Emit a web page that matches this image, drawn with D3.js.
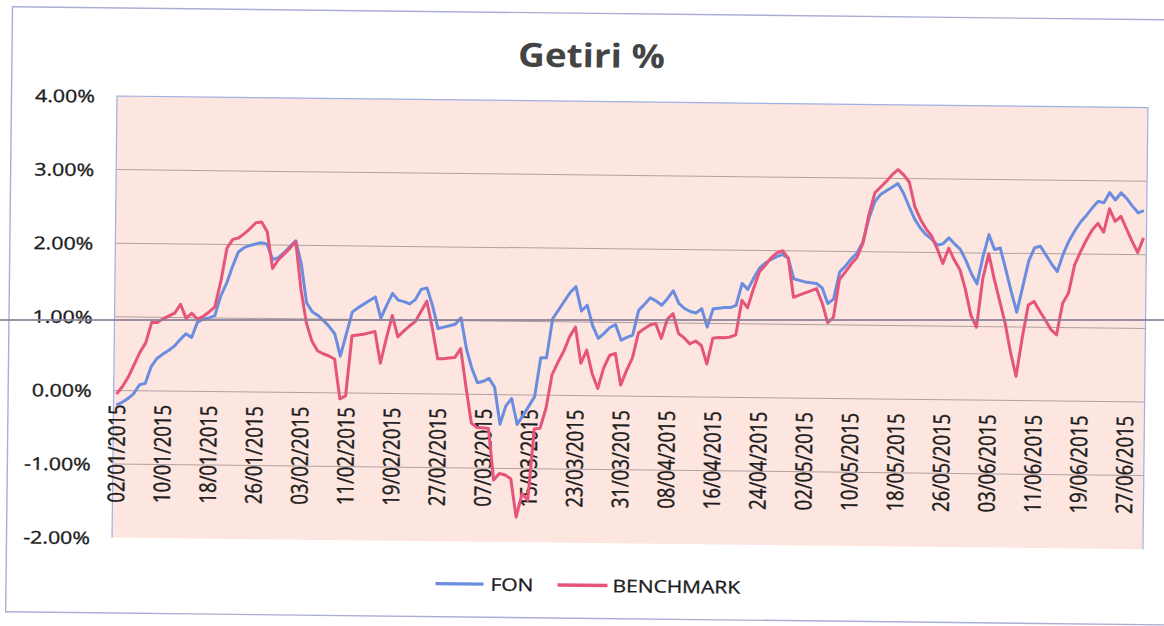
<!DOCTYPE html>
<html><head><meta charset="utf-8">
<script src="https://cdn.jsdelivr.net/npm/d3@7"></script>
<style>
html,body{margin:0;padding:0;background:#fff;}
svg{display:block;}
text{font-family:"Open Sans",sans-serif;}
</style></head><body>
<svg id="chart" width="1164" height="626"></svg>
<script>
// ---------------- data ----------------
const firstDay = "02/01/2015";   // one value per calendar day from here
const lastDayExclusive = "01/07/2015";
const seriesNames = ["FON", "BENCHMARK"];
const fon = [
 -0.20,-0.16,-0.11,-0.04,0.08,0.10,0.33,0.44,0.50,0.55,
 0.61,0.70,0.78,0.73,0.94,0.98,1.00,1.03,1.30,1.47,
 1.70,1.90,1.96,1.99,2.01,2.03,2.01,1.80,1.83,1.90,
 1.98,2.06,1.75,1.22,1.10,1.05,0.98,0.90,0.80,0.50,
 0.80,1.10,1.16,1.21,1.26,1.31,1.02,1.20,1.36,1.27,
 1.25,1.22,1.28,1.42,1.44,1.20,0.89,0.91,0.93,0.95,
 1.04,0.62,0.35,0.16,0.18,0.22,0.10,-0.40,-0.15,-0.05,
 -0.40,-0.28,-0.15,-0.02,0.51,0.51,1.04,1.16,1.28,1.40,
 1.48,1.15,1.23,0.95,0.78,0.85,0.93,0.97,0.76,0.80,
 0.83,1.17,1.25,1.34,1.30,1.24,1.33,1.44,1.27,1.20,
 1.16,1.14,1.20,0.95,1.20,1.21,1.22,1.22,1.25,1.55,
 1.47,1.62,1.76,1.83,1.88,1.92,1.95,1.90,1.62,1.60,
 1.58,1.57,1.56,1.50,1.29,1.35,1.72,1.80,1.90,1.98,
 2.13,2.45,2.68,2.78,2.83,2.88,2.93,2.80,2.62,2.45,
 2.33,2.24,2.18,2.10,2.12,2.20,2.12,2.05,1.90,1.72,
 1.58,1.95,2.25,2.05,2.07,1.78,1.48,1.20,1.55,1.90,
 2.08,2.10,1.98,1.86,1.76,2.00,2.18,2.32,2.44,2.53,
 2.63,2.72,2.70,2.84,2.74,2.84,2.76,2.66,2.57,2.60
];
const benchmark = [
 -0.05,0.05,0.18,0.35,0.52,0.65,0.93,0.93,0.98,1.02,
 1.06,1.18,0.99,1.06,0.98,1.02,1.08,1.15,1.50,1.95,
 2.07,2.09,2.15,2.22,2.30,2.31,2.18,1.68,1.80,1.88,
 1.96,2.05,1.40,0.95,0.70,0.57,0.53,0.50,0.46,-0.08,
 -0.04,0.78,0.79,0.80,0.82,0.84,0.41,0.75,1.06,0.77,
 0.85,0.92,0.98,1.12,1.26,0.90,0.48,0.48,0.49,0.50,
 0.62,0.10,-0.39,-0.45,-0.45,-0.46,-1.16,-1.07,-1.09,-1.14,
 -1.66,-1.34,-1.43,-0.46,-0.45,-0.18,0.28,0.45,0.60,0.80,
 0.93,0.44,0.62,0.30,0.10,0.38,0.55,0.58,0.15,0.35,
 0.52,0.86,0.92,0.97,0.99,0.79,1.05,1.13,0.86,0.80,
 0.72,0.76,0.70,0.45,0.80,0.81,0.81,0.82,0.85,1.32,
 1.22,1.48,1.71,1.80,1.90,1.97,2.00,1.90,1.37,1.40,
 1.43,1.46,1.49,1.30,1.03,1.10,1.62,1.72,1.83,1.92,
 2.11,2.50,2.80,2.88,2.96,3.05,3.12,3.05,2.95,2.62,
 2.45,2.32,2.22,2.05,1.85,2.06,1.90,1.77,1.50,1.15,
 0.99,1.65,1.99,1.65,1.35,1.05,0.65,0.33,0.85,1.30,
 1.35,1.22,1.10,0.97,0.90,1.33,1.47,1.85,2.03,2.19,
 2.33,2.42,2.30,2.62,2.45,2.52,2.35,2.18,2.03,2.23
];
const yTicks = [4, 3, 2, 1, 0, -1, -2];
const xTickLabels = ["02/01/2015","10/01/2015","18/01/2015","26/01/2015","03/02/2015",
 "11/02/2015","19/02/2015","27/02/2015","07/03/2015","15/03/2015","23/03/2015",
 "31/03/2015","08/04/2015","16/04/2015","24/04/2015","02/05/2015","10/05/2015",
 "18/05/2015","26/05/2015","03/06/2015","11/06/2015","19/06/2015","27/06/2015"];
const titleText = "Getiri %";

// ---------------- layout ----------------
const colors = {fon: "#6b8de0", bench: "#e6547a"};
const textColor = "#1c1c1c";
const P = {left: 117, right: 1148, top: 96, bottom: 537.6};
const parse = d3.timeParse("%d/%m/%Y");
const fmt = d3.timeFormat("%d/%m/%Y");
const mid = d => d3.timeHour.offset(d, 12);

const days = d3.timeDay.range(parse(firstDay), parse(lastDayExclusive));
const x = d3.scaleTime().domain([parse(firstDay), parse(lastDayExclusive)]).range([P.left, P.right]);
const y = d3.scaleLinear().domain([-2, 4]).range([P.bottom, P.top]);

const svg = d3.select("#chart");
svg.append("rect").attr("width", 1164).attr("height", 626).attr("fill", "#ffffff");

// the scanned page is slightly tilted
const g = svg.append("g").attr("transform", `rotate(0.647,${P.left},${P.top})`);

// chart outer border
g.append("rect").attr("x", 11.5).attr("y", 8).attr("width", 1180).attr("height", 605)
  .attr("fill", "none").attr("stroke", "#a9aed4").attr("stroke-width", 1.4);

// plot area
g.append("rect").attr("x", P.left).attr("y", P.top)
  .attr("width", P.right - P.left).attr("height", P.bottom - P.top)
  .attr("fill", "#fde5e0");

// gridlines
g.append("g").selectAll("line").data(yTicks.filter(t => t < 4 && t > -2)).join("line")
  .attr("x1", P.left).attr("x2", P.right)
  .attr("y1", d => y(d)).attr("y2", d => y(d))
  .attr("stroke", "#b2a0a0").attr("stroke-width", 1);

// plot border (top, left, right)
g.append("path")
  .attr("d", `M${P.left},${P.bottom}V${P.top}H${P.right}V${P.bottom}`)
  .attr("fill", "none").attr("stroke", "#9fb0e2").attr("stroke-width", 1.2);

// y axis labels
const yAxis = g.append("g").attr("transform", "translate(95,0)")
  .call(d3.axisLeft(y).tickValues(yTicks).tickSize(0).tickPadding(0)
    .tickFormat(d => d.toFixed(2) + "%"));
yAxis.select(".domain").remove();
yAxis.selectAll("text")
  .attr("x", 0).attr("dy", "0.36em")
  .attr("transform", "scale(1.22,1)")
  .style("font-family", '"Open Sans", sans-serif')
  .style("font-size", "17.5px").attr("fill", textColor)
  .attr("stroke", textColor).attr("stroke-width", 0.35);

// x axis labels (rotated), axis crosses at 0
const xAxis = g.append("g").attr("transform", `translate(0,${y(0) + 14})`)
  .call(d3.axisBottom(x).tickValues(xTickLabels.map(s => mid(parse(s))))
    .tickSize(0).tickPadding(0).tickFormat(d => fmt(d)));
xAxis.select(".domain").remove();
xAxis.selectAll("text")
  .attr("x", 0).attr("y", 0).attr("dy", "0.36em")
  .attr("text-anchor", "end")
  .attr("transform", "scale(1.24,1) rotate(-90)")
  .style("font-family", '"Open Sans", sans-serif')
  .style("font-size", "18.5px").attr("fill", textColor)
  .attr("stroke", textColor).attr("stroke-width", 0.35);

// lines
const line = d3.line().x(d => x(mid(d.date))).y(d => y(d.v));
const fonData = fon.map((v, i) => ({date: days[i], v}));
const benchData = benchmark.map((v, i) => ({date: days[i], v}));
g.append("path").datum(fonData).attr("d", line)
  .attr("fill", "none").attr("stroke", colors.fon).attr("stroke-width", 3)
  .attr("stroke-linejoin", "round");
g.append("path").datum(benchData).attr("d", line)
  .attr("fill", "none").attr("stroke", colors.bench).attr("stroke-width", 3)
  .attr("stroke-linejoin", "round");

// title
g.append("text").attr("transform", "translate(591,62) scale(1.12,1)")
  .attr("text-anchor", "middle")
  .style("font-family", '"Open Sans", sans-serif').style("font-weight", "bold")
  .style("font-size", "33px").attr("fill", "#444444").text(titleText);

// legend
const legendItems = [
  {name: seriesNames[0], color: colors.fon, x1: 441, x2: 489, tx: 496},
  {name: seriesNames[1], color: colors.bench, x1: 563, x2: 613, tx: 618}
];
const lg = g.append("g");
legendItems.forEach(it => {
  lg.append("line").attr("x1", it.x1).attr("x2", it.x2).attr("y1", 580).attr("y2", 580)
    .attr("stroke", it.color).attr("stroke-width", 3.4);
  lg.append("text").attr("transform", `translate(${it.tx},586.5) scale(1.2,1)`)
    .style("font-family", '"Open Sans", sans-serif').style("font-size", "17.5px")
    .attr("fill", textColor).attr("stroke", textColor).attr("stroke-width", 0.3)
    .text(it.name);
});

// horizontal scanner streak across the page
svg.append("line").attr("x1", 0).attr("x2", 1164).attr("y1", 320).attr("y2", 320)
  .attr("stroke", "#8a8096").attr("stroke-width", 2).attr("opacity", 0.85);
</script>
</body></html>
